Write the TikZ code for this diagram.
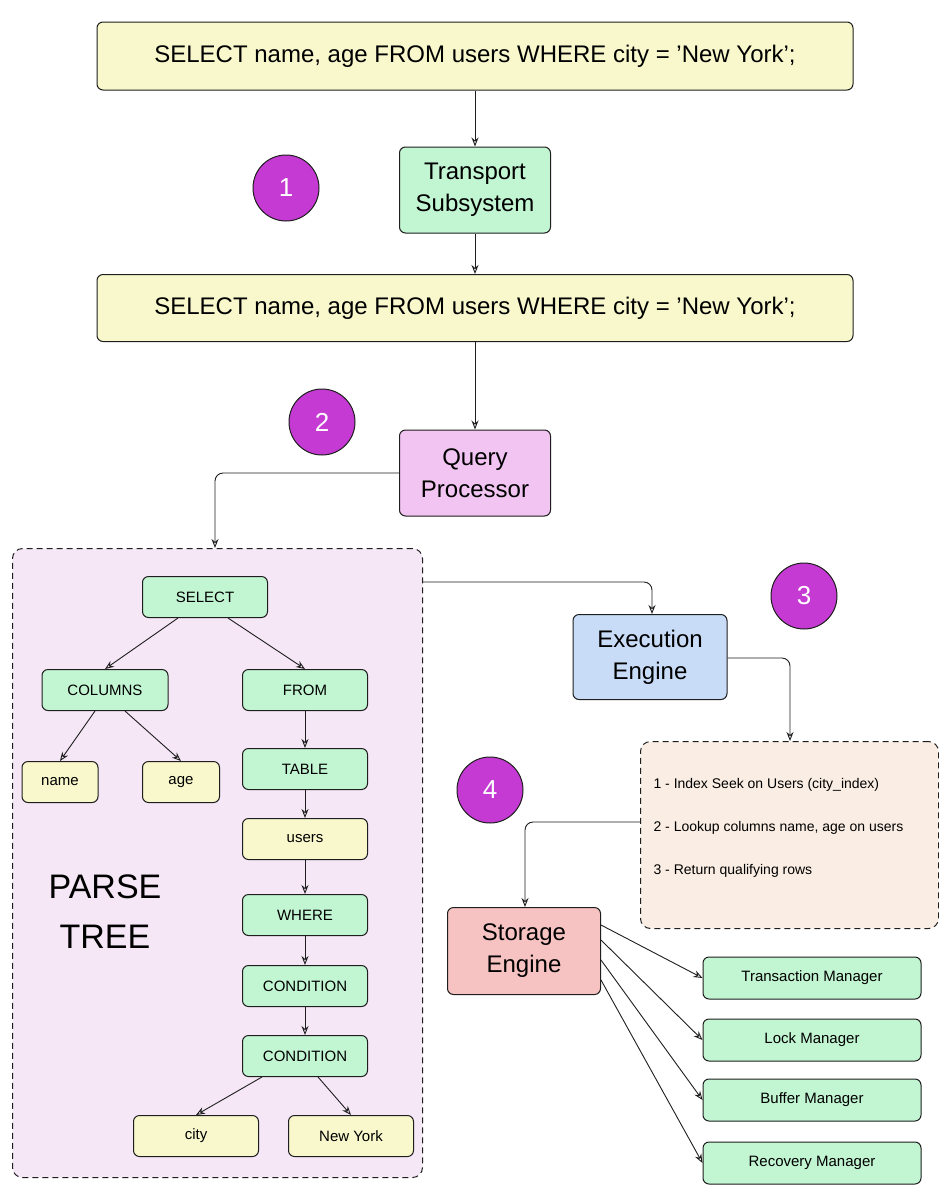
\documentclass[tikz,border=0pt]{standalone}
\usepackage{fontspec}
\setmainfont{Liberation Sans}
\usetikzlibrary{arrows.meta}
\definecolor{yel}{HTML}{F8F8CC}
\definecolor{grn}{HTML}{C2F5D2}
\definecolor{pnk}{HTML}{F2C4F2}
\definecolor{blu}{HTML}{C8DCF8}
\definecolor{red}{HTML}{F7C2C2}
\definecolor{pur}{HTML}{C43AD2}
\definecolor{ptbg}{HTML}{F5E7F6}
\definecolor{plbg}{HTML}{FAEEE4}
\definecolor{ink}{HTML}{1E1E1E}
\begin{document}
\begin{tikzpicture}[x=1pt,y=-1pt,
  box/.style={draw=ink,line width=1pt,rounded corners=6pt,align=center,inner sep=0pt},
  big/.style={box,font=\fontsize{24}{30}\selectfont},
  sm/.style={box,minimum width=125pt,minimum height=41pt,font=\fontsize{15}{18}\selectfont},
  num/.style={circle,draw=ink,line width=1pt,fill=pur,minimum size=66pt,text=white,font=\fontsize{26}{30}\selectfont},
  arr/.style={draw=ink,line width=0.9pt,-{Stealth[length=9pt,width=7pt,open]}},
  cont/.style={draw=ink,line width=1pt,dashed,dash pattern=on 6pt off 4pt,rounded corners=10pt}]
\useasboundingbox (0,0) rectangle (939,1200);
\fill[white] (0,0) rectangle (939,1200);
% containers
\node[cont,fill=ptbg,minimum width=410pt,minimum height=629pt,anchor=north west] (pt) at (12,548) {};
\node[cont,fill=plbg,minimum width=298pt,minimum height=187pt,anchor=north west] (plan) at (640,741) {};
\node[anchor=west,font=\fontsize{14}{17}\selectfont] (p1) at (650,785) {1 - Index Seek on Users (city\_index)};
\node[anchor=west,font=\fontsize{14}{17}\selectfont] (p2) at (650,828) {2 - Lookup columns name, age on users};
\node[anchor=west,font=\fontsize{14}{17}\selectfont] (p3) at (650,871) {3 - Return qualifying rows};
% top
\node[big,fill=yel,minimum width=756pt,minimum height=68pt] (sql1) at (475,56) {SELECT name, age FROM users WHERE city = 'New York';};
\node[big,fill=grn,minimum width=151pt,minimum height=86pt] (tr) at (475,190) {Transport\\[2pt]Subsystem};
\node[big,fill=yel,minimum width=756pt,minimum height=67pt] (sql2) at (475,308) {SELECT name, age FROM users WHERE city = 'New York';};
\node[big,fill=pnk,minimum width=151pt,minimum height=86pt] (qp) at (475,473) {Query\\[2pt]Processor};
\node[big,fill=blu,minimum width=154pt,minimum height=85pt] (ee) at (650,657) {Execution\\[2pt]Engine};
\node[big,fill=red,minimum width=153pt,minimum height=87pt] (se) at (524,951) {Storage\\[2pt]Engine};
\node[num] (n1) at (286,188) {1};
\node[num] (n2) at (322,422) {2};
\node[num] (n3) at (804,596) {3};
\node[num] (n4) at (490,790) {4};
\draw[arr] (sql1) -- (tr);
\draw[arr] (tr) -- (sql2);
\draw[arr] (sql2) -- (qp);
\draw[arr,rounded corners=8pt] (qp.west) -- (215,473) -- (pt.north -| 215,0);
\draw[arr,rounded corners=8pt] (pt.north east |- 0,582) -- (652,582) -- (ee.north -| 652,0);
\draw[arr,rounded corners=8pt] (ee.east |- 0,658) -- (790,658) -- (plan.north -| 790,0);
\draw[arr,rounded corners=8pt] (plan.west |- 0,822) -- (525,822) -- (se.north -| 525,0);
% tree
\node[sm,fill=grn] (sel) at (205,597) {SELECT};
\node[sm,fill=grn,minimum width=126pt] (col) at (105,690) {COLUMNS};
\node[sm,fill=grn] (from) at (305,690) {FROM};
\node[sm,fill=yel,minimum width=76pt] (name) at (60,782) {name};
\node[sm,fill=yel,minimum width=77pt] (age) at (181,782) {age};
\node[sm,fill=grn] (tab) at (305,769) {TABLE};
\node[sm,fill=yel] (users) at (305,839) {users};
\node[sm,fill=grn] (wh) at (305,915) {WHERE};
\node[sm,fill=grn] (c1) at (305,986) {CONDITION};
\node[sm,fill=grn] (c2) at (305,1056) {CONDITION};
\node[sm,fill=yel] (city) at (196,1136) {city};
\node[sm,fill=yel] (ny) at (351,1136) {New York};
\node[align=center,font=\fontsize{34}{50}\selectfont] (ptl) at (105,912) {PARSE\\TREE};
\draw[arr] (sel.south -| 178,0) -- (col.north);
\draw[arr] (sel.south -| 228,0) -- (from.north);
\draw[arr] (col.south -| 95,0) -- (name.north);
\draw[arr] (col.south -| 125,0) -- (age.north);
\draw[arr] (from) -- (tab);
\draw[arr] (tab) -- (users);
\draw[arr] (users) -- (wh);
\draw[arr] (wh) -- (c1);
\draw[arr] (c1) -- (c2);
\draw[arr] (c2.south -| 262,0) -- (city.north);
\draw[arr] (c2.south -| 318,0) -- (ny.north);
% managers
\node[sm,fill=grn,minimum width=218pt,minimum height=42pt] (tm) at (812,978) {Transaction Manager};
\node[sm,fill=grn,minimum width=218pt,minimum height=42pt] (lm) at (812,1040) {Lock Manager};
\node[sm,fill=grn,minimum width=218pt,minimum height=42pt] (bm) at (812,1100) {Buffer Manager};
\node[sm,fill=grn,minimum width=218pt,minimum height=42pt] (rm) at (812,1163) {Recovery Manager};
\draw[arr] (se.east |- 0,925) -- (tm.west);
\draw[arr] (se.east |- 0,940) -- (lm.west);
\draw[arr] (se.east |- 0,960) -- (bm.west);
\draw[arr] (se.east |- 0,980) -- (rm.west);
\end{tikzpicture}
\end{document}
